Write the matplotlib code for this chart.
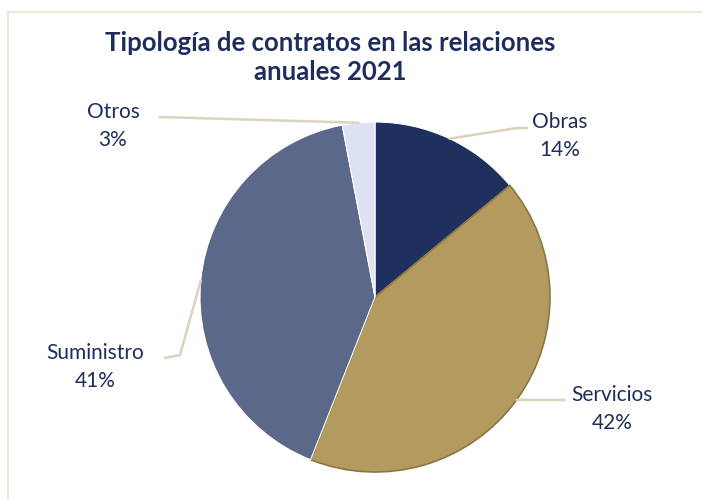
import numpy as np
import matplotlib
matplotlib.use("Agg")
import matplotlib.pyplot as plt
from matplotlib.patches import Rectangle

plt.rcParams['font.family'] = ['Lato', 'DejaVu Sans']

# data
categorias = ["Obras", "Servicios", "Suministro", "Otros"]
porcentajes = [14, 42, 41, 3]
colores = ["#1F2F5E", "#B39A5E", "#5B6889", "#DCE2F4"]
titulo = "Tipología de contratos en las relaciones\nanuales 2021"

W, H = 702, 499
navy = "#1F2D5C"
linea = "#DCD3BD"

fig = plt.figure(figsize=(W/100, H/100), dpi=100)
ax = fig.add_axes([0, 0, 1, 1])
ax.set_xlim(0, W)
ax.set_ylim(0, H)
ax.set_aspect('equal')
ax.axis('off')

def py(y):
    return H - y

# marco
ax.add_patch(Rectangle((8, py(H + 20)), W + 20, H + 20 - 12, fill=False,
                       edgecolor="#ECE8DC", lw=1.5))

cx, cy, r = 375, py(297), 175
explode = [0, 0.012, 0, 0]
wedges, _ = ax.pie(porcentajes, colors=colores, startangle=90, counterclock=False,
                   center=(cx, cy), radius=r, explode=explode,
                   wedgeprops=dict(linewidth=0.8, edgecolor="white"))
wedges[1].set_edgecolor("#8C7643")
wedges[1].set_linewidth(1.2)
ax.set_xlim(0, W)
ax.set_ylim(0, H)

# etiquetas (posición, punto de quiebre)
etq_pos = [(560, 136), (612, 409), (95, 367), (113, 126)]
codo = [[(517, 128), (527, 128)], [(565, 400)], [(180, 355), (165, 358)], [(160, 117)]]

acum = 0
for i, (cat, p) in enumerate(zip(categorias, porcentajes)):
    mid = 90 - (acum + p / 2) / 100 * 360
    acum += p
    a = np.deg2rad(mid)
    xs = [cx + r * np.cos(a)]
    ys = [cy + r * np.sin(a)]
    for (qx, qy) in codo[i]:
        xs.append(qx); ys.append(py(qy))
    ax.plot(xs, ys, color=linea, lw=1.8, solid_capstyle='round', zorder=3)
    x, y = etq_pos[i]
    ax.text(x, py(y), f"{cat}\n{p}%", ha="center", va="center", fontsize=15,
            color=navy, linespacing=1.55)

ax.text(330, py(57), titulo, ha="center", va="center", fontsize=18.5,
        fontweight="bold", color=navy, linespacing=1.25)

fig.savefig("out.png", dpi=100)
